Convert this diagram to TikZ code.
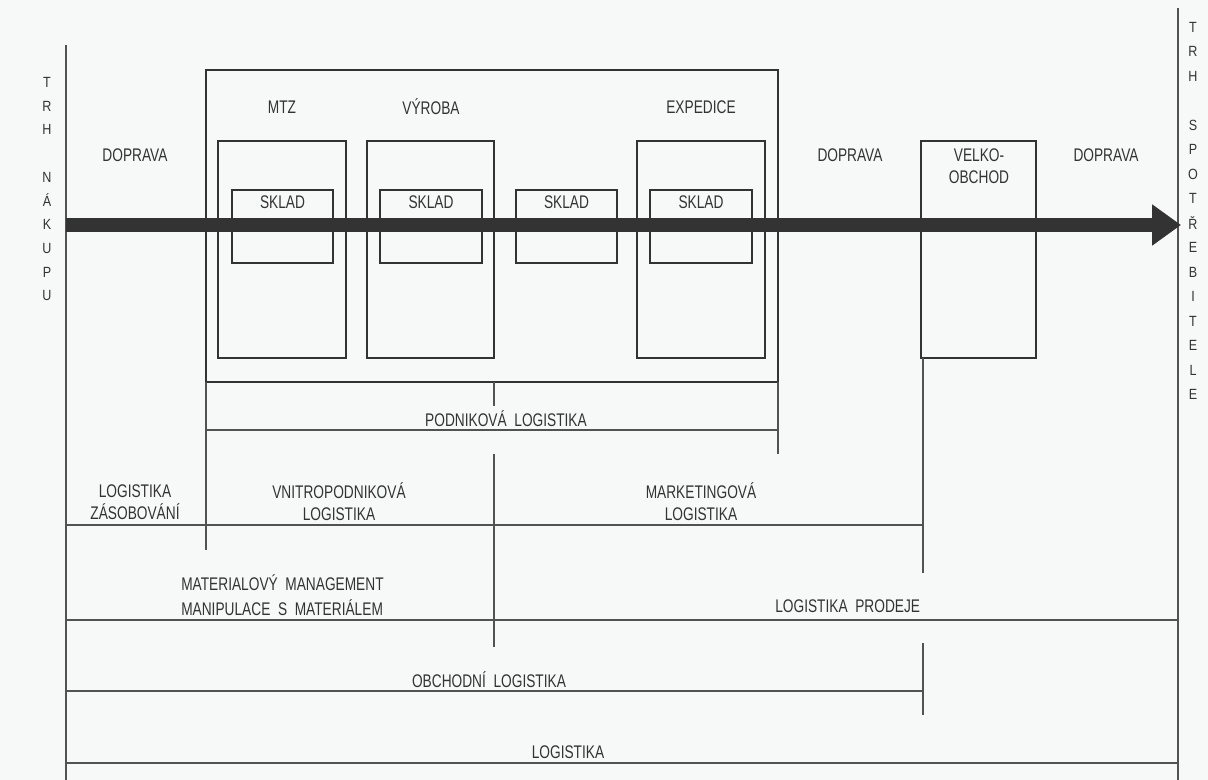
\documentclass[tikz,border=0pt]{standalone}
\usepackage{fontspec}
\usetikzlibrary{arrows.meta}
\newfontfamily\labelfont[FakeStretch=0.75]{Liberation Sans}
\newfontfamily\trhfont[FakeStretch=0.85]{Liberation Sans}
\definecolor{ink}{HTML}{333333}
\definecolor{paper}{HTML}{F7F8F8}
\tikzset{
  lab/.style={font=\labelfont\fontsize{13}{15.5}\selectfont, text=ink, inner sep=0pt, align=center},
  letter/.style={font=\trhfont\fontsize{10.5}{12}\selectfont, text=ink, inner sep=0pt},
  box/.style={draw=ink, line width=1.8pt},
  rule/.style={draw=ink!85, line width=1.3pt}
}
\begin{document}
\begin{tikzpicture}[x=0.025cm, y=-0.025cm]
  \fill[paper] (0,0) rectangle (1208,780);
  \useasboundingbox (0,0) rectangle (1208,780);
  % markets on both sides
  \draw[rule] (66,45) -- (66,780);
  \draw[rule] (1178,8) -- (1178,780);
  \foreach \l/\y [count=\i] in {T/82, R/106, H/129, N/177, Á/200, K/224, U/248, P/272, U/295}
    \node[letter] (nakup\i) at (47,\y) {\l};
  \foreach \l/\y [count=\i] in {T/27, R/51.5, H/76, S/125, P/149.5, O/174, T/198.5, Ř/223,
      E/247.5, B/272, I/296.5, T/321, E/345.5, L/370, E/394.5}
    \node[letter] (spotreba\i) at (1193,\y) {\l};

  % company and its departments
  \draw[box] (206,70) rectangle (778,382);
  \foreach \a/\b in {218/346, 367/494, 637/765, 921/1036}
    \draw[box] (\a,141) rectangle (\b,358);
  \foreach \a/\b [count=\i] in {232/333, 380/482, 516/617, 650/752} {
    \draw[box] (\a,190) rectangle (\b,263);
    \node[lab] (sklad\i) at ({(\a+\b)/2},202) {SKLAD};
  }
  \node[lab] (mtz) at (282,107) {MTZ};
  \node[lab] (vyroba) at (431,107) {VÝROBA};
  \node[lab] (expedice) at (701,107) {EXPEDICE};
  \node[lab] (velko) at (979,166) {VELKO-\\OBCHOD};
  \foreach \x [count=\i] in {135, 850, 1106}
    \node[lab] (doprava\i) at (\x,155) {DOPRAVA};

  % flow of goods
  \draw[draw=ink, line width=10pt, -{Triangle[length=0.72cm, width=0.98cm]}] (66,225) -- (1181,225);

  % logistics ranges
  \draw[rule] (206,382) -- (206,550);
  \draw[rule] (778,382) -- (778,454);
  \draw[rule] (494,382) -- (494,406);
  \draw[rule] (494,454) -- (494,647);
  \draw[rule] (923,358) -- (923,573);
  \draw[rule] (923,643) -- (923,715);
  \draw[rule] (206,430) -- (778,430);
  \draw[rule] (66,525) -- (923,525);
  \draw[rule] (66,620) -- (1178,620);
  \draw[rule] (66,691) -- (923,691);
  \draw[rule] (66,763) -- (1178,763);

  \node[lab] (podnik) at (506,419) {PODNIKOVÁ\ \ LOGISTIKA};
  \node[lab] (zasob) at (135,502) {LOGISTIKA\\ZÁSOBOVÁNÍ};
  \node[lab] (vnitro) at (339,502) {VNITROPODNIKOVÁ\\LOGISTIKA};
  \node[lab] (market) at (701,502) {MARKETINGOVÁ\\LOGISTIKA};
  \node[lab, anchor=west, align=left, font=\labelfont\fontsize{13}{17.5}\selectfont] (material) at (181,595)
    {MATERIALOVÝ\ \ MANAGEMENT\\MANIPULACE\ \ S\ \ MATERIÁLEM};
  \node[lab, anchor=west] (prodej) at (775,606) {LOGISTIKA\ \ PRODEJE};
  \node[lab] (obchod) at (489,680) {OBCHODNÍ\ \ LOGISTIKA};
  \node[lab] (logistika) at (568,752) {LOGISTIKA};
\end{tikzpicture}
\end{document}
